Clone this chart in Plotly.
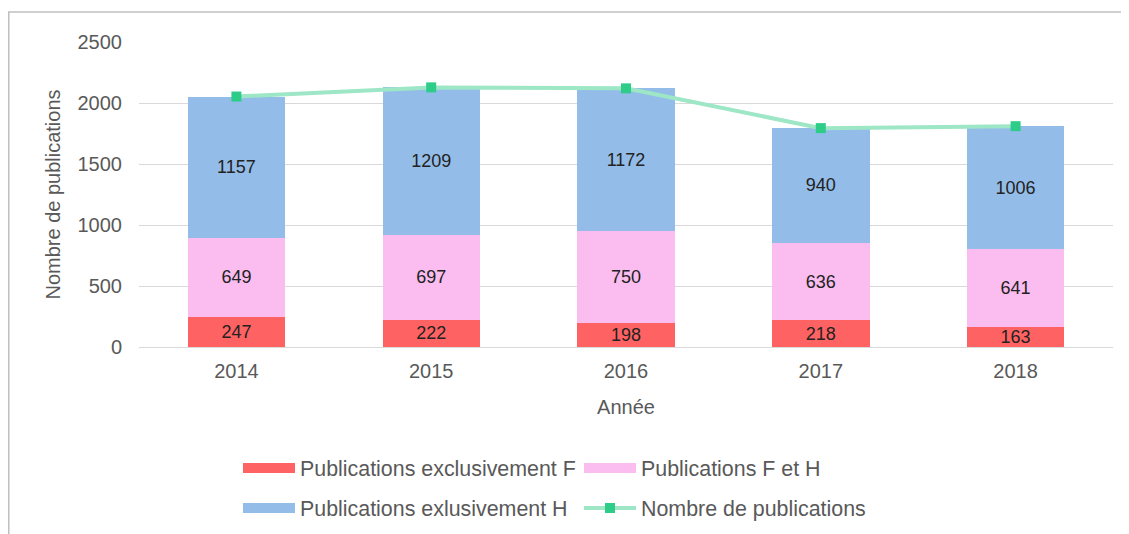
import plotly.graph_objects as go

years = ["2014", "2015", "2016", "2017", "2018"]
excl_f = [247, 222, 198, 218, 163]
f_et_h = [649, 697, 750, 636, 641]
excl_h = [1157, 1209, 1172, 940, 1006]
total = [2053, 2128, 2120, 1794, 1810]

c_red = "#ff6262"
c_pink = "#fbbdf0"
c_blue = "#93bde8"
c_line = "#9de6c6"
c_mark = "#2dcc89"

# page has an 8px body margin; compensate
OFF = 8
W, H = 1129, 534
L, R, T, B = 139 - OFF, 16 + OFF, 42 - OFF, 187 + OFF
pw, ph = W - L - R, H - T - B

FONT = "Liberation Sans, Arial"
GREY = "#595959"

fig = go.Figure()
txtfont = dict(family=FONT, size=18, color="#222222")
for name, vals, col in [("Publications exclusivement F", excl_f, c_red),
                        ("Publications F et H", f_et_h, c_pink),
                        ("Publications exlusivement H", excl_h, c_blue)]:
    fig.add_trace(go.Bar(x=years, y=vals, name=name, marker=dict(color=col, line=dict(width=0)),
                         texttemplate="%{y}", textposition="inside", insidetextanchor="middle",
                         constraintext="none", textfont=txtfont, showlegend=False, width=0.5,
                         hoverinfo="y"))
fig.add_trace(go.Scatter(x=years, y=total, mode="lines+markers", name="Nombre de publications",
                         line=dict(color=c_line, width=4),
                         marker=dict(symbol="square", size=10, color=c_mark), showlegend=False))

# legend entries
fig.add_trace(go.Scatter(x=[None], y=[None], mode="lines", name="Publications exclusivement F",
                         line=dict(color=c_red, width=10), legend="legend"))
fig.add_trace(go.Scatter(x=[None], y=[None], mode="lines", name="Publications F et H",
                         line=dict(color=c_pink, width=10), legend="legend"))
fig.add_trace(go.Scatter(x=[None], y=[None], mode="lines", name="Publications exlusivement H",
                         line=dict(color=c_blue, width=10), legend="legend2"))
fig.add_trace(go.Scatter(x=[None], y=[None], mode="lines+markers", name="Nombre de publications",
                         line=dict(color=c_line, width=4),
                         marker=dict(symbol="square", size=10, color=c_mark), legend="legend2"))

legfont = dict(family=FONT, size=21.4, color=GREY)
lx = (238 - OFF - L) / pw
def ly(ypix):
    return -(ypix - OFF - (T + ph)) / ph

common_leg = dict(orientation="h", x=lx, xanchor="left", yanchor="middle", itemwidth=52,
                  entrywidth=274, font=legfont, traceorder="normal", bgcolor="rgba(0,0,0,0)")

fy_top = -(12 - OFF - T - ph) / ph
fy_bot = -(540 - OFF - T - ph) / ph
fx_left = (8 - OFF - L) / pw
fx_right = (W + 10 - L) / pw

fig.update_layout(
    width=W, height=H, margin=dict(l=L, r=R, t=T, b=B, autoexpand=False),
    paper_bgcolor="white", plot_bgcolor="white", barmode="stack",
    font=dict(family=FONT, size=20, color=GREY),
    legend=dict(common_leg, y=ly(468)),
    legend2=dict(common_leg, y=ly(508)),
    xaxis=dict(showgrid=False, showline=False, ticks="", ticklabelstandoff=10, automargin=False,
               tickfont=dict(size=20, color=GREY),
               title=dict(text="Année", font=dict(size=20, color=GREY), standoff=18)),
    yaxis=dict(range=[0, 2500], dtick=500, showgrid=True, gridcolor="#d9d9d9", gridwidth=1.3,
               zeroline=True, zerolinecolor="#d9d9d9", zerolinewidth=1.3, showline=False,
               automargin=False,
               ticks="", ticklabelstandoff=16, tickfont=dict(size=20, color=GREY),
               title=dict(text="Nombre de publications", font=dict(size=20, color=GREY),
                          standoff=11)),
    shapes=[
        dict(type="line", xref="paper", yref="paper", x0=fx_left, x1=fx_right,
             y0=fy_top, y1=fy_top, line=dict(color="#bfbfbf", width=1.5)),
        dict(type="line", xref="paper", yref="paper", x0=fx_left + 0.0008, x1=fx_left + 0.0008,
             y0=fy_top, y1=fy_bot, line=dict(color="#bfbfbf", width=1.5)),
    ],
)

fig.write_html("out.html")
